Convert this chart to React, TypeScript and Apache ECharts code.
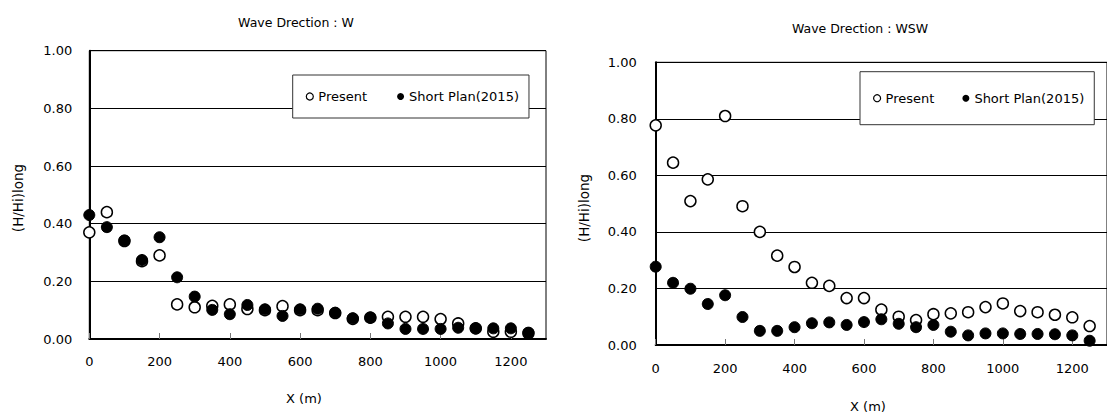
import React, { useEffect, useRef } from "react";
import * as echarts from "echarts";

const xPositions = [0, 50, 100, 150, 200, 250, 300, 350, 400, 450, 500, 550, 600, 650, 700, 750, 800, 850, 900, 950, 1000, 1050, 1100, 1150, 1200, 1250];

const presentW = [0.37, 0.44, 0.34, 0.27, 0.29, 0.12, 0.11, 0.115, 0.12, 0.104, 0.10, 0.114, 0.10, 0.10, 0.09, 0.07, 0.074, 0.077, 0.077, 0.077, 0.069, 0.054, 0.037, 0.025, 0.025, 0.02];
const shortW = [0.43, 0.388, 0.342, 0.274, 0.353, 0.214, 0.147, 0.101, 0.086, 0.118, 0.103, 0.08, 0.103, 0.105, 0.091, 0.072, 0.074, 0.054, 0.035, 0.035, 0.035, 0.039, 0.037, 0.037, 0.037, 0.022];

const presentWSW = [0.777, 0.645, 0.509, 0.586, 0.81, 0.491, 0.40, 0.316, 0.276, 0.22, 0.209, 0.166, 0.166, 0.125, 0.10, 0.088, 0.109, 0.112, 0.116, 0.134, 0.147, 0.12, 0.116, 0.107, 0.098, 0.067];
const shortWSW = [0.277, 0.22, 0.199, 0.145, 0.176, 0.099, 0.05, 0.05, 0.063, 0.077, 0.08, 0.071, 0.081, 0.091, 0.075, 0.063, 0.071, 0.047, 0.034, 0.041, 0.041, 0.039, 0.039, 0.038, 0.034, 0.015];

const titles = ["Wave Drection : W", "Wave Drection : WSW"];
const seriesNames = ["Present", "Short Plan(2015)"];
const xAxisName = "X (m)";
const yAxisName = "(H/Hi)long";

const FONT = "DejaVu Sans";

export default function App() {
  const ref = useRef<HTMLDivElement>(null);

  useEffect(() => {
    if (!ref.current) return;
    const chart = echarts.init(ref.current, null, { renderer: "svg" });

    const pairs = (vals: number[]) => xPositions.map((x, i) => [x, vals[i]]);

    const grids = [
      { left: 89.3, top: 50.7, width: 456.7, height: 288.3 },
      { left: 655.7, top: 62.3, width: 458.3, height: 282.7 },
    ];

    const xAxisCommon = (gi: number, margin: number) => ({
      type: "value",
      gridIndex: gi,
      min: 0,
      max: 1300,
      interval: 200,
      axisLine: { show: true, lineStyle: { color: "#000", width: 2 } },
      axisTick: { show: true, inside: true, length: 6, lineStyle: { color: "#777", width: 1 } },
      axisLabel: {
        color: "#000",
        fontSize: 13,
        fontFamily: FONT,
        margin,
        showMaxLabel: false,
        formatter: (v: number) => String(v),
      },
      splitLine: { show: false },
    });

    const yAxisCommon = (gi: number, margin: number) => ({
      type: "value",
      gridIndex: gi,
      min: 0,
      max: 1,
      interval: 0.2,
      axisLine: { show: true, lineStyle: { color: "#000", width: 2 } },
      axisTick: { show: false },
      axisLabel: {
        color: "#000",
        fontSize: 13,
        fontFamily: FONT,
        margin,
        formatter: (v: number) => v.toFixed(2),
      },
      splitLine: { show: true, lineStyle: { color: "#000", width: 1 } },
    });

    const openStyle = { color: "#fff", borderColor: "#000", borderWidth: 1.5, opacity: 1 };
    const filledStyle = { color: "#000", borderColor: "#000", borderWidth: 1, opacity: 1 };

    const legendCommon = (left: number, top: number, padding: number[], gap: number) => ({
      left,
      top,
      orient: "horizontal",
      padding,
      itemGap: gap,
      itemWidth: 7,
      itemHeight: 7,
      borderColor: "#333",
      borderWidth: 1,
      backgroundColor: "#fff",
      textStyle: { color: "#000", fontSize: 13, fontFamily: FONT },
      data: [
        { name: seriesNames[0], icon: "circle", itemStyle: { color: "#fff", borderColor: "#000", borderWidth: 1.2, opacity: 1 } },
        { name: seriesNames[1], icon: "circle", itemStyle: { color: "#000", borderColor: "#000", borderWidth: 0, opacity: 1 } },
      ],
      selectedMode: false,
    });

    const option: any = {
      animation: false,
      backgroundColor: "#fff",
      grid: grids.map((g) => ({ ...g, show: true, borderColor: "#000", borderWidth: 1, backgroundColor: "transparent" })),
      xAxis: [xAxisCommon(0, 16), xAxisCommon(1, 17)],
      yAxis: [yAxisCommon(0, 17), yAxisCommon(1, 19)],
      legend: [
        legendCommon(292.7, 75, [15, 10, 15, 13], 30),
        legendCommon(860, 71.7, [20, 10, 20, 13], 28),
      ],
      graphic: [
        { type: "text", x: 296, y: 22, style: { text: titles[0], fill: "#000", font: `12.5px "${FONT}"`, textAlign: "center", textVerticalAlign: "middle" } },
        { type: "text", x: 860, y: 28, style: { text: titles[1], fill: "#000", font: `12.5px "${FONT}"`, textAlign: "center", textVerticalAlign: "middle" } },
        { type: "text", x: 304, y: 398, style: { text: xAxisName, fill: "#000", font: `13px "${FONT}"`, textAlign: "center", textVerticalAlign: "middle" } },
        { type: "text", x: 868, y: 406, style: { text: xAxisName, fill: "#000", font: `13px "${FONT}"`, textAlign: "center", textVerticalAlign: "middle" } },
        { type: "text", x: 17.5, y: 198, rotation: Math.PI / 2, style: { text: yAxisName, fill: "#000", font: `13.5px "${FONT}"`, textAlign: "center", textVerticalAlign: "middle" } },
        { type: "text", x: 584, y: 208, rotation: Math.PI / 2, style: { text: yAxisName, fill: "#000", font: `13.5px "${FONT}"`, textAlign: "center", textVerticalAlign: "middle" } },
      ],
      series: [
        { name: seriesNames[0], type: "scatter", xAxisIndex: 0, yAxisIndex: 0, symbol: "circle", symbolSize: 11, clip: false, itemStyle: openStyle, data: pairs(presentW), z: 3 },
        { name: seriesNames[1], type: "scatter", xAxisIndex: 0, yAxisIndex: 0, symbol: "circle", symbolSize: 11, clip: false, itemStyle: filledStyle, data: pairs(shortW), z: 4 },
        { name: seriesNames[0], type: "scatter", xAxisIndex: 1, yAxisIndex: 1, symbol: "circle", symbolSize: 11, clip: false, itemStyle: openStyle, data: pairs(presentWSW), z: 3 },
        { name: seriesNames[1], type: "scatter", xAxisIndex: 1, yAxisIndex: 1, symbol: "circle", symbolSize: 11, clip: false, itemStyle: filledStyle, data: pairs(shortWSW), z: 4 },
      ],
    };

    chart.setOption(option);
    return () => chart.dispose();
  }, []);

  return (
    <div
      ref={ref}
      style={{ position: "absolute", left: 0, top: 0, width: 1107, height: 417, background: "#fff" }}
    />
  );
}
